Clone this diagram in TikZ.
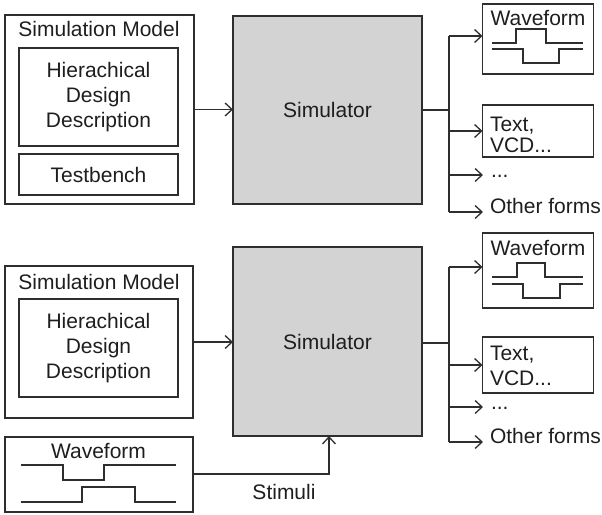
\documentclass[tikz,border=0pt]{standalone}
\usepackage{fontspec}
\setmainfont{Liberation Sans}
\usetikzlibrary{arrows.meta}
\definecolor{ink}{HTML}{2E2E2E}
\definecolor{textink}{HTML}{1E1E1E}
\definecolor{simfill}{HTML}{D3D3D3}
\begin{document}
\begin{tikzpicture}[x=1pt,y=-1pt,
  every node/.style={font=\fontsize{21}{25}\selectfont, text=textink},
  box/.style={draw=ink, line width=1.3pt, inner sep=0pt, outer sep=0pt, align=center},
  simbox/.style={box, fill=simfill},
  wire/.style={draw=ink, line width=1.3pt},
  arr/.style={wire, -{Straight Barb[length=7pt,width=13pt,line width=1.3pt]}},
  lbl/.style={inner sep=0pt, outer sep=0pt},
  sig/.style={draw=ink, line width=1.3pt, line join=miter}
]
\useasboundingbox (0,0) rectangle (602,514);

% ---------------- upper flow: model with testbench ----------------
\node[box, minimum width=189pt, minimum height=189pt] (sm1) at (99.5,109.5) {};
\node[lbl, anchor=base] (sml1) at (99,36) {Simulation Model};
\node[box, minimum width=159pt, minimum height=98pt] (hdd1) at (98.5,97) {Hierachical\\Design\\Description};
\node[box, minimum width=159pt, minimum height=41pt] (tb1) at (98.5,174.5) {Testbench};
\node[simbox, minimum width=189pt, minimum height=188pt] (sim1) at (327.5,110) {Simulator};

\node[box, minimum width=111pt, minimum height=70pt] (wf1) at (538,39) {};
\node[lbl, anchor=base] (wfl1) at (538,25) {Waveform};
\draw[sig] (492,43) -- (516,43) -- (516,29) -- (546,29) -- (546,43) -- (583,43);
\draw[sig] (492,49) -- (523,49) -- (523,63) -- (559,63) -- (559,49) -- (583,49);

\node[box, minimum width=111pt, minimum height=52pt] (txt1) at (538,131) {};
\node[lbl, anchor=west, align=left] (txtl1) at (490,135) {Text,\\[-4pt]VCD...};
\node[lbl, anchor=base west] (dots1) at (491,177) {...};
\node[lbl, anchor=base west] (oth1) at (490,213) {Other forms};

\draw[arr] (sm1.east) -- (sm1.east -| sim1.west);
\coordinate (br1) at (449,110);
\coordinate (bt1) at (449,36);
\coordinate (bb1) at (449,212);
\draw[wire] (sim1.east |- br1) -- (br1);
\draw[wire] (bt1) -- (bb1);
\draw[arr] (bt1) -- (bt1 -| wf1.west);
\draw[arr] (449,131) -- (txt1.west);
\draw[arr] (449,175) -- ([xshift=-8pt]dots1.west |- 0,175);
\draw[arr] (bb1) -- ([xshift=-7pt]oth1.west |- bb1);

% ---------------- lower flow: model with waveform stimuli ----------------
\node[box, minimum width=188pt, minimum height=152pt] (sm2) at (99,342) {};
\node[lbl, anchor=base] (sml2) at (99,289) {Simulation Model};
\node[box, minimum width=159pt, minimum height=98pt] (hdd2) at (98.5,348) {Hierachical\\Design\\Description};
\node[simbox, minimum width=189pt, minimum height=189pt] (sim2) at (327.5,341.5) {Simulator};

\node[box, minimum width=111pt, minimum height=75pt] (wf2) at (538,270.5) {};
\node[lbl, anchor=base] (wfl2) at (538,255) {Waveform};
\draw[sig] (492,277) -- (517,277) -- (517,263) -- (545,263) -- (545,277) -- (583,277);
\draw[sig] (492,284) -- (523,284) -- (523,298) -- (560,298) -- (560,284) -- (583,284);

\node[box, minimum width=111pt, minimum height=56pt] (txt2) at (538,365) {};
\node[lbl, anchor=west, align=left] (txtl2) at (490,366) {Text,\\VCD...};
\node[lbl, anchor=base west] (dots2) at (491,409) {...};
\node[lbl, anchor=base west] (oth2) at (490,443) {Other forms};

\draw[arr] (sm2.east) -- (sm2.east -| sim2.west);
\coordinate (br2) at (449,343);
\coordinate (bt2) at (449,267);
\coordinate (bb2) at (449,442);
\draw[wire] (sim2.east |- br2) -- (br2);
\draw[wire] (bt2) -- (bb2);
\draw[arr] (bt2) -- (bt2 -| wf2.west);
\draw[arr] (449,365) -- (txt2.west);
\draw[arr] (449,407) -- ([xshift=-8pt]dots2.west |- 0,407);
\draw[arr] (bb2) -- ([xshift=-7pt]oth2.west |- bb2);

% stimulus waveform feeding the simulator from below
\node[box, minimum width=188pt, minimum height=75pt] (wfin) at (99,474.5) {};
\node[lbl, anchor=base] (wfinl) at (98.5,458) {Waveform};
\draw[sig] (21,465) -- (63,465) -- (63,480) -- (104,480) -- (104,465) -- (176,465);
\draw[sig] (21,502) -- (82,502) -- (82,487) -- (135,487) -- (135,502) -- (176,502);
\coordinate (stc) at (329,474);
\draw[arr] (wfin.east |- stc) -- (stc) -- (stc |- sim2.south);
\node[lbl, anchor=base] (stim) at (284,499) {Stimuli};
\end{tikzpicture}
\end{document}
